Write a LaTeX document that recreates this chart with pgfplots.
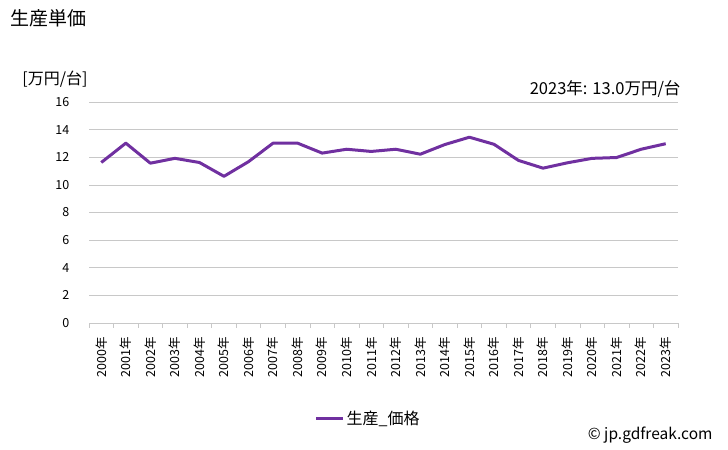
\documentclass[border=0pt]{standalone}
\usepackage{pgfplots}
\pgfplotsset{compat=1.18}
\usepackage{fontspec}
\setmainfont{Noto Sans CJK JP}
\definecolor{lineC}{HTML}{7030A0}
\definecolor{gridC}{HTML}{C8C8C8}
\begin{document}
\begin{tikzpicture}
\useasboundingbox (0,0) rectangle (728bp,450bp);
\node[anchor=west,font=\fontsize{19bp}{22bp}\selectfont] at (7bp,432bp) {生産単価};
\node[font=\fontsize{16bp}{19bp}\selectfont] at (55bp,371bp) {[万円/台]};
\node[anchor=east,font=\fontsize{16.5bp}{19bp}\selectfont] at (684bp,361bp) {2023年: 13.0万円/台};
\node[anchor=east,font=\fontsize{15.5bp}{18bp}\selectfont] at (716bp,15bp) {© jp.gdfreak.com};
\begin{axis}[
  at={(89bp,127bp)}, anchor=south west,
  scale only axis, width=589bp, height=221bp,
  xmin=-0.5, xmax=23.5, ymin=0, ymax=16,
  ytick={0,2,...,16},
  xtick={0,...,23},
  xticklabels={2000年,2001年,2002年,2003年,2004年,2005年,2006年,2007年,2008年,2009年,2010年,2011年,2012年,2013年,2014年,2015年,2016年,2017年,2018年,2019年,2020年,2021年,2022年,2023年},
  minor xtick={-0.5,0.5,...,23.5},
  ymajorgrids, major grid style={gridC, line width=0.6bp},
  axis line style={draw=none},
  axis x line*=bottom,
  x axis line style={draw=gridC, line width=0.8bp},
  tick align=outside,
  major x tick style={draw=none},
  minor x tick style={draw=gridC, line width=0.6bp},
  minor tick length=5bp,
  major y tick style={draw=none},
  y axis line style={draw=none},
  yticklabel style={font=\fontsize{12.5bp}{15bp}\selectfont, xshift=-12bp},
  /pgf/number format/assume math mode=true,
  xticklabel style={font=\fontsize{12.5bp}{14bp}\selectfont, rotate=90, anchor=east, xshift=-6bp},
  legend style={at={(0.474,-0.43)}, anchor=center, draw=none, font=\fontsize{16bp}{19bp}\selectfont, legend cell align=left},
  legend image code/.code={\draw[#1, line width=3bp] (0bp,0bp) -- (27bp,0bp);},
  clip=false,
]
\addplot[color=lineC, line width=3bp, mark=none, line join=round] coordinates {
(0,11.62) (1,13.02) (2,11.57) (3,11.92) (4,11.62) (5,10.62) (6,11.68) (7,13.02) (8,13.02) (9,12.3) (10,12.58) (11,12.42) (12,12.58) (13,12.22) (14,12.92) (15,13.45) (16,12.94) (17,11.77) (18,11.21) (19,11.6) (20,11.92) (21,11.98) (22,12.58) (23,12.98)
};
\addlegendentry{生産\_価格}
\end{axis}
\end{tikzpicture}
\end{document}
